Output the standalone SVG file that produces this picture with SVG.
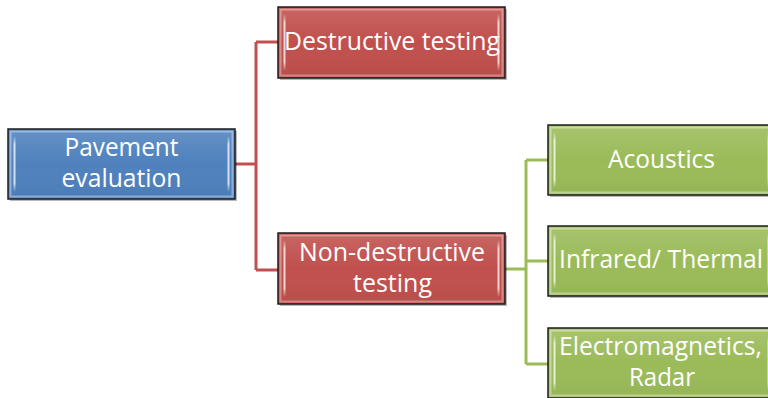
<svg xmlns="http://www.w3.org/2000/svg" width="768" height="398" viewBox="0 0 768 398">
  <defs>
    <linearGradient id="shine" x1="0" y1="0" x2="0" y2="1">
      <stop offset="0" stop-color="#ffffff" stop-opacity="0"/>
      <stop offset="0.15" stop-color="#ffffff" stop-opacity="0.75"/>
      <stop offset="0.85" stop-color="#ffffff" stop-opacity="0.75"/>
      <stop offset="1" stop-color="#ffffff" stop-opacity="0"/>
    </linearGradient>
    <linearGradient id="gloss" x1="0" y1="0" x2="0" y2="1">
      <stop offset="0" stop-color="#ffffff" stop-opacity="0.12"/>
      <stop offset="0.5" stop-color="#ffffff" stop-opacity="0"/>
      <stop offset="1" stop-color="#000000" stop-opacity="0.04"/>
    </linearGradient>
  </defs>
  <style>
    .shadow { fill: #000000; opacity: 0.28; }
    .box { stroke: #1c1c1c; stroke-width: 1.5; }
    .blue { fill: #4F81BD; }
    .red { fill: #C0504D; }
    .green { fill: #9BBB59; }
    .rim { fill: none; stroke-width: 2; }
    .blue-rim { stroke: #8fb1dc; }
    .red-rim { stroke: #db8b89; }
    .green-rim { stroke: #c4d89a; }
    .gloss { fill: url(#gloss); }
    .shine { fill: url(#shine); }
    .label { font-family: "Open Sans", "Noto Sans", "Liberation Sans", sans-serif; font-size: 25px; fill: #ffffff; text-anchor: middle; }
    .red-line { fill: none; stroke: #C0504D; stroke-width: 3; }
    .green-line { fill: none; stroke: #9BBB59; stroke-width: 3; }
  </style>

  <!-- connectors -->
  <g id="connectors">
    <path class="red-line" d="M235 164 H256 M256 42 V270 M256 42 H278 M256 270 H278"/>
    <path class="green-line" d="M505 269 H526 M526 160 V364 M526 160 H548 M526 261 H548 M526 364 H548"/>
  </g>

  <!-- root -->
  <g id="pavement-evaluation">
    <rect class="shadow" x="10" y="131" width="227" height="70"/>
    <rect class="box blue" x="8" y="129" width="227" height="70"/>
    <rect class="rim blue-rim" x="10.5" y="131.5" width="222" height="65"/>
    <rect class="gloss" x="10" y="131" width="223" height="66"/>
    <rect class="shine" x="13.5" y="136" width="2" height="56"/>
    <rect class="shine" x="227.5" y="136" width="2" height="56"/>
    <text class="label" x="121.5" y="156" textLength="114" lengthAdjust="spacingAndGlyphs">Pavement</text>
    <text class="label" x="121.5" y="187" textLength="120" lengthAdjust="spacingAndGlyphs">evaluation</text>
  </g>

  <!-- first level -->
  <g id="destructive-testing">
    <rect class="shadow" x="280" y="9" width="227" height="71"/>
    <rect class="box red" x="278" y="7" width="227" height="71"/>
    <rect class="rim red-rim" x="280.5" y="9.5" width="222" height="66"/>
    <rect class="gloss" x="280" y="9" width="223" height="67"/>
    <rect class="shine" x="283.5" y="14" width="2" height="57"/>
    <rect class="shine" x="497.5" y="14" width="2" height="57"/>
    <text class="label" x="392" y="50" textLength="216" lengthAdjust="spacingAndGlyphs">Destructive testing</text>
  </g>

  <g id="non-destructive-testing">
    <rect class="shadow" x="280" y="235" width="227" height="71"/>
    <rect class="box red" x="278" y="233" width="227" height="71"/>
    <rect class="rim red-rim" x="280.5" y="235.5" width="222" height="66"/>
    <rect class="gloss" x="280" y="235" width="223" height="67"/>
    <rect class="shine" x="283.5" y="240" width="2" height="57"/>
    <rect class="shine" x="497.5" y="240" width="2" height="57"/>
    <text class="label" x="392" y="261" textLength="186" lengthAdjust="spacingAndGlyphs">Non-destructive</text>
    <text class="label" x="392.5" y="292" textLength="79" lengthAdjust="spacingAndGlyphs">testing</text>
  </g>

  <!-- second level -->
  <g id="acoustics">
    <rect class="shadow" x="550" y="127" width="227" height="70"/>
    <rect class="box green" x="548" y="125" width="227" height="70"/>
    <rect class="rim green-rim" x="550.5" y="127.5" width="222" height="65"/>
    <rect class="gloss" x="550" y="127" width="223" height="66"/>
    <rect class="shine" x="553.5" y="132" width="2" height="56"/>
    <rect class="shine" x="767.5" y="132" width="2" height="56"/>
    <text class="label" x="661.5" y="168" textLength="107" lengthAdjust="spacingAndGlyphs">Acoustics</text>
  </g>

  <g id="infrared-thermal">
    <rect class="shadow" x="550" y="228" width="227" height="70"/>
    <rect class="box green" x="548" y="226" width="227" height="70"/>
    <rect class="rim green-rim" x="550.5" y="228.5" width="222" height="65"/>
    <rect class="gloss" x="550" y="228" width="223" height="66"/>
    <rect class="shine" x="553.5" y="233" width="2" height="56"/>
    <rect class="shine" x="767.5" y="233" width="2" height="56"/>
    <text class="label" x="661" y="268" textLength="204" lengthAdjust="spacingAndGlyphs">Infrared/ Thermal</text>
  </g>

  <g id="electromagnetics-radar">
    <rect class="shadow" x="550" y="330" width="227" height="70"/>
    <rect class="box green" x="548" y="328" width="227" height="70"/>
    <rect class="rim green-rim" x="550.5" y="330.5" width="222" height="65"/>
    <rect class="gloss" x="550" y="330" width="223" height="66"/>
    <rect class="shine" x="553.5" y="335" width="2" height="56"/>
    <rect class="shine" x="767.5" y="335" width="2" height="56"/>
    <text class="label" x="660.5" y="355" textLength="203" lengthAdjust="spacingAndGlyphs">Electromagnetics,</text>
    <text class="label" x="662" y="386" textLength="66" lengthAdjust="spacingAndGlyphs">Radar</text>
  </g>
</svg>
